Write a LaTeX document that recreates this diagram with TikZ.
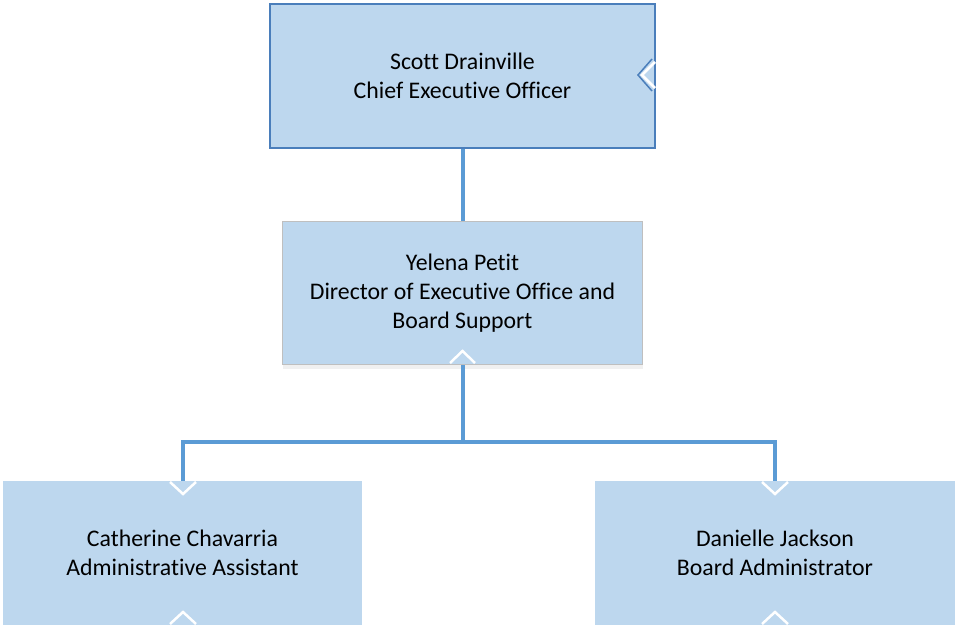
\documentclass[tikz,border=0pt]{standalone}
\usepackage{fontspec}
\setmainfont{Carlito}[Ligatures={NoCommon}]
\usetikzlibrary{positioning,shadows}
\definecolor{boxfill}{HTML}{BDD7EE}
\definecolor{boxline}{HTML}{4A7EBB}
\definecolor{linkblue}{HTML}{5B9BD5}
\definecolor{softgray}{HTML}{BFBFBF}

\begin{document}
\begin{tikzpicture}[x=1pt, y=-1pt, node distance=72pt,
  font=\fontsize{23.8}{29}\selectfont]
\tikzstyle{person}=[fill=boxfill, draw=none, align=center, inner sep=0pt,
  minimum width=360pt, minimum height=144pt]
\tikzstyle{link}=[draw=linkblue, line width=4pt]
\tikzstyle{notch}=[draw=white, line width=2.5pt]
\useasboundingbox (0,0) rectangle (957,629);
\node[person, draw=boxline, line width=2pt, minimum width=385pt] (ceo) at (462.5,76)
  {Scott Drainville\\Chief Executive Officer};
\node[person, draw=softgray, line width=1pt, minimum height=143pt,
  drop shadow={opacity=0.12, shadow xshift=0pt, shadow yshift=-4pt}]
  (dir) [below=72pt of ceo] {Yelena Petit\\Director of Executive Office and\\Board Support};
\node[person, minimum width=359pt] (asst) at (182.5,553)
  {Catherine Chavarria\\Administrative Assistant};
\node[person] (admin) at (775,553) {Danielle Jackson\\Board Administrator};
\coordinate (split) at (462.5,442);
\path[link]
(ceo) edge (dir)
(dir) edge (split);
\draw[link] (split) -| (asst);
\draw[link] (split) -| (admin);
% small chevrons on the box edges
\draw[boxline, line width=1.5pt] (652,59) -- (638,75) -- (652,91);
\draw[notch] (655,62) -- (642,75) -- (655,88);
\draw[notch] (450,363) -- (462.5,351) -- (475,363);
\draw[notch] (170,482) -- (183,494) -- (196,482);
\draw[notch] (170,624) -- (183,612) -- (196,624);
\draw[notch] (762,482) -- (775,494) -- (788,482);
\draw[notch] (762,624) -- (775,612) -- (788,624);
\end{tikzpicture}
\end{document}
